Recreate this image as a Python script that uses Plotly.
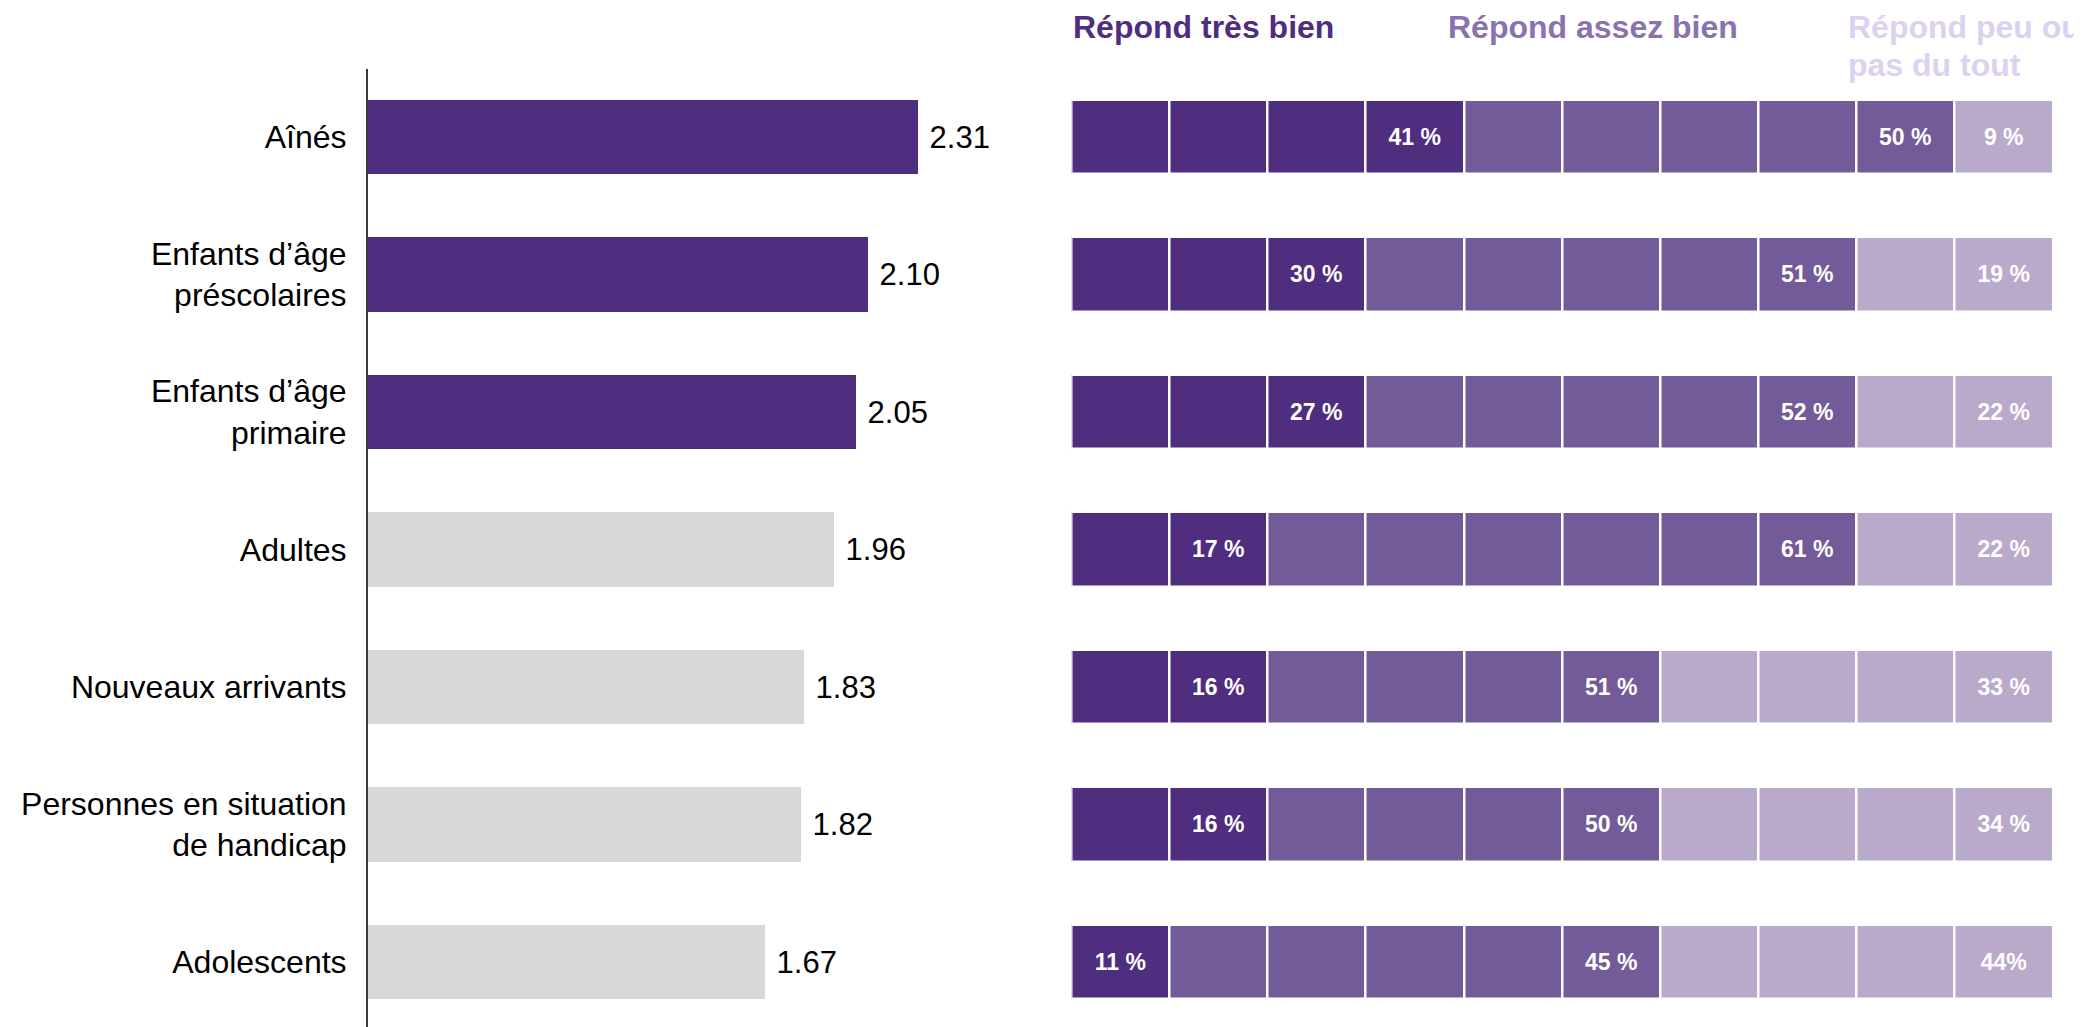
import plotly.graph_objects as go

categories = ["Aînés", "Enfants d’âge<br>préscolaires", "Enfants d’âge<br>primaire", "Adultes",
              "Nouveaux arrivants", "Personnes en situation<br>de handicap", "Adolescents"]
scores = [2.31, 2.10, 2.05, 1.96, 1.83, 1.82, 1.67]
score_labels = ["2.31", "2.10", "2.05", "1.96", "1.83", "1.82", "1.67"]
highlighted = [True, True, True, False, False, False, False]

pct_tres = ["41 %", "30 %", "27 %", "17 %", "16 %", "16 %", "11 %"]
pct_assez = ["50 %", "51 %", "52 %", "61 %", "51 %", "50 %", "45 %"]
pct_peu = ["9 %", "19 %", "22 %", "22 %", "33 %", "34 %", "44%"]
cells_tres = [4, 3, 3, 2, 2, 2, 1]
cells_assez = [5, 5, 5, 6, 4, 4, 5]
cells_peu = [1, 2, 2, 2, 4, 4, 4]
headers = [["Répond très bien"], ["Répond assez bien"], ["Répond peu ou", "pas du tout"]]

DARK = "#4F2D7F"
MED = "#735A98"
LIGHT = "#B9AACB"
GREY = "#D7D8DA"
FONT = "Liberation Sans, Arial, sans-serif"

W, H = 2082, 1027
OFF = 8  # page body margin
fig = go.Figure()

fig.add_trace(go.Bar(
    y=categories, x=scores, orientation="h", width=0.54,
    marker=dict(color=[DARK if h else GREY for h in highlighted], line=dict(width=0)),
    text=[" " + s for s in score_labels], textposition="outside", cliponaxis=False,
    textfont=dict(size=31, color="#000000", family=FONT),
    xaxis="x", yaxis="y", showlegend=False, hoverinfo="skip",
))

# grid of 10 cells per row
n_cells = 10
for j in range(n_cells):
    colors, texts = [], []
    for i in range(len(categories)):
        a, b, c = cells_tres[i], cells_assez[i], cells_peu[i]
        if j < a:
            colors.append(DARK)
            texts.append("<b>" + pct_tres[i] + "</b>" if j == a - 1 else "")
        elif j < a + b:
            colors.append(MED)
            texts.append("<b>" + pct_assez[i] + "</b>" if j == a + b - 1 else "")
        else:
            colors.append(LIGHT)
            texts.append("<b>" + pct_peu[i] + "</b>" if j == a + b + c - 1 else "")
    fig.add_trace(go.Bar(
        y=categories, x=[1] * len(categories), base=[j] * len(categories),
        orientation="h", width=0.54,
        marker=dict(color=colors, line=dict(color="white", width=2.5)),
        text=texts, textposition="inside", insidetextanchor="middle", textangle=0,
        constraintext="none",
        textfont=dict(size=23, color="white", family=FONT),
        xaxis="x2", yaxis="y", showlegend=False, hoverinfo="skip",
    ))

x0 = 368 - OFF
ppu = 238.0
x_end = 1000 - OFF
top_px = 69 - OFF
c0, c6 = 137 - OFF, 962 - OFF
pitch = (c6 - c0) / 6
r_top = -(c0 - top_px) / pitch
r_bot = 6 + (H - c6) / pitch

fig.update_layout(
    width=W, height=H, margin=dict(l=0, r=0, t=0, b=0),
    paper_bgcolor="white", plot_bgcolor="white",
    barmode="overlay", bargap=0,
    font=dict(family=FONT, size=32, color="#000000"),
    xaxis=dict(domain=[x0 / W, x_end / W], range=[0, (x_end - x0) / ppu],
               visible=False, fixedrange=True),
    xaxis2=dict(domain=[(1071.5 - OFF) / W, (2053 - OFF) / W], range=[0, 10], anchor="y",
                visible=False, fixedrange=True),
    yaxis=dict(domain=[0, 1 - top_px / H], range=[r_bot, r_top], type="category",
               showline=True, linecolor="#3a3a3a", linewidth=2, showgrid=False,
               zeroline=False, ticks="", ticklabelstandoff=13,
               tickfont=dict(size=32, color="#000000", family=FONT)),
)

header_colors = [DARK, "#8A72B0", "#DCD1EE"]
header_x = [1071 - OFF, 1446 - OFF, 1846 - OFF]
line_y = [27 - OFF, 65 - OFF]
for lines, col, hx in zip(headers, header_colors, header_x):
    for k, txt in enumerate(lines):
        fig.add_annotation(
            x=hx / W, y=1 - line_y[k] / H, xref="paper", yref="paper",
            xanchor="left", yanchor="middle", align="left", showarrow=False,
            text="<b>" + txt + "</b>",
            font=dict(size=32, color=col, family=FONT),
        )

fig.write_html("out.html")
